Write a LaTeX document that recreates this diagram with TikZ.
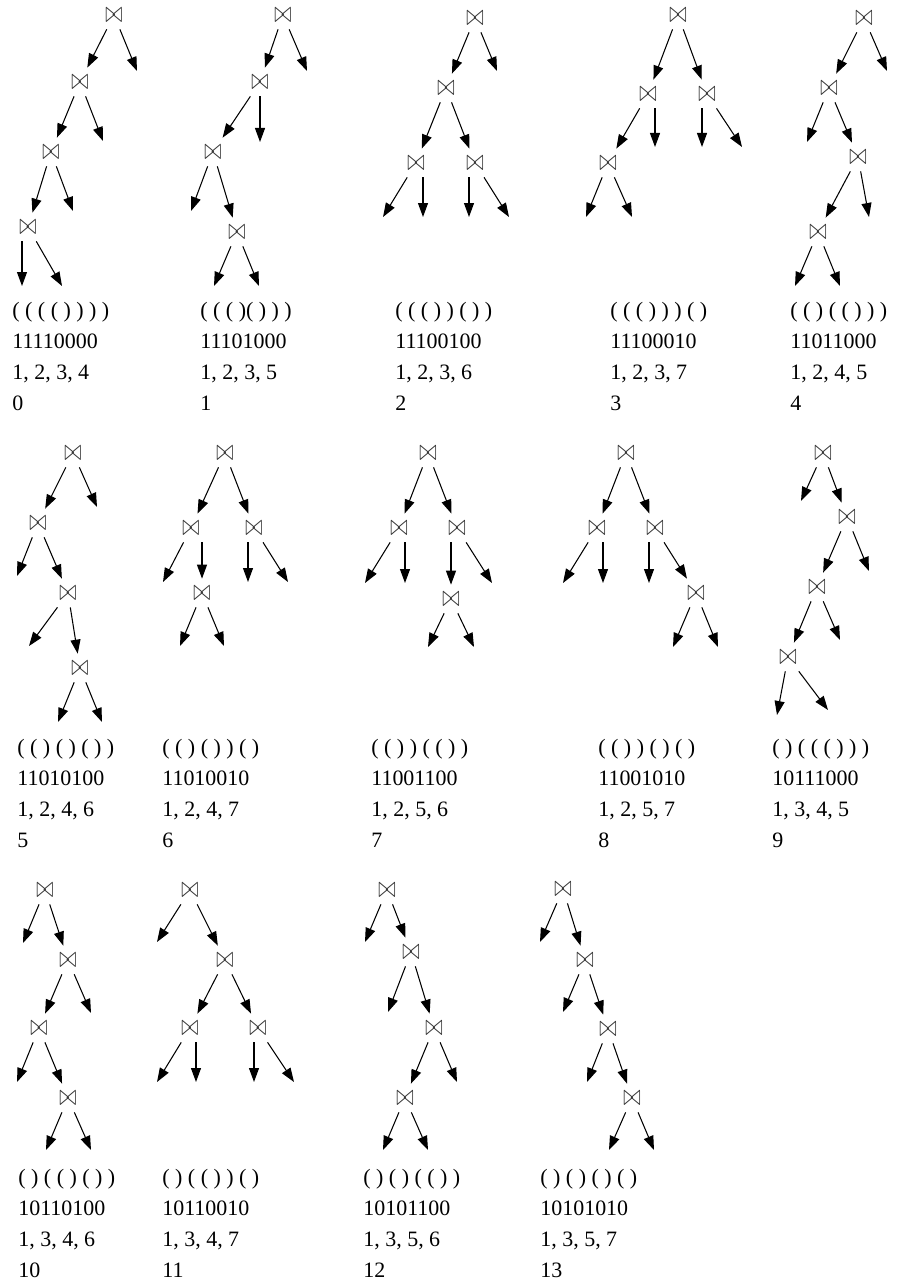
\documentclass[tikz,border=0pt]{standalone}
\usepackage{fontspec}
\setmainfont{Liberation Serif}
\usepackage{tikz}
\usetikzlibrary{arrows.meta}
\newcommand\lblfont{\fontsize{12.5pt}{17.6pt}\selectfont}
\newcommand\jfont{\fontsize{12pt}{14pt}\selectfont}
\newcommand\jsym{\scalebox{1}[1.45]{$\bowtie$}}
\tikzset{
  jnode/.style={
    inner sep=0pt, minimum width=0.5cm, minimum height=0.56cm,
    text=black!80, font=\jfont
  },
  arrow/.style={-{Triangle[length=0.28cm,width=0.2cm]}, line width=0.6pt, black},
  lbl/.style={anchor=north west, inner sep=0pt, align=left, font=\lblfont}
}
\begin{document}
\begin{tikzpicture}[x=0.02cm,y=-0.02cm]
\useasboundingbox (0,0) rectangle (899,1287);

% row 1
\node[jnode] (t0a) at (114,15)  {\jsym};
\node[jnode] (t0b) at (80,82)   {\jsym};
\node[jnode] (t0c) at (51,152)  {\jsym};
\node[jnode] (t0d) at (28,227)  {\jsym};
\coordinate (t0l1) at (137,71);
\coordinate (t0l2) at (103,141);
\coordinate (t0l3) at (73,211);
\coordinate (t0l4) at (22,286);
\coordinate (t0l5) at (62,286);
\draw[arrow] (t0a) -- (t0b);
\draw[arrow] (t0a) -- (t0l1);
\draw[arrow] (t0b) -- (t0c);
\draw[arrow] (t0b) -- (t0l2);
\draw[arrow] (t0c) -- (t0d);
\draw[arrow] (t0c) -- (t0l3);
\draw[arrow] (t0d.south -| t0l4) -- (t0l4);
\draw[arrow] (t0d) -- (t0l5);
\node[lbl] (lab0) at (12,302) {( ( ( ( ) ) ) )\\11110000\\1, 2, 3, 4\\0};

\node[jnode] (t1a) at (283,15)  {\jsym};
\node[jnode] (t1b) at (260,82)  {\jsym};
\node[jnode] (t1c) at (213,152) {\jsym};
\node[jnode] (t1d) at (237,232) {\jsym};
\coordinate (t1l1) at (307,71);
\coordinate (t1l2) at (260,142);
\coordinate (t1l3) at (191,211);
\coordinate (t1l4) at (214,286);
\coordinate (t1l5) at (259,286);
\draw[arrow] (t1a) -- (t1b);
\draw[arrow] (t1a) -- (t1l1);
\draw[arrow] (t1b) -- (t1c);
\draw[arrow] (t1b) -- (t1l2);
\draw[arrow] (t1c) -- (t1l3);
\draw[arrow] (t1c) -- (t1d);
\draw[arrow] (t1d) -- (t1l4);
\draw[arrow] (t1d) -- (t1l5);
\node[lbl] (lab1) at (200,302) {( ( ( )( ) ) )\\11101000\\1, 2, 3, 5\\1};

\node[jnode] (t2a) at (475,18)  {\jsym};
\node[jnode] (t2b) at (446,88)  {\jsym};
\node[jnode] (t2c) at (416,163) {\jsym};
\node[jnode] (t2d) at (475,163) {\jsym};
\coordinate (t2l1) at (497,71);
\coordinate (t2l2) at (383,217);
\coordinate (t2l3) at (423,217);
\coordinate (t2l4) at (469,217);
\coordinate (t2l5) at (509,217);
\draw[arrow] (t2a) -- (t2b);
\draw[arrow] (t2a) -- (t2l1);
\draw[arrow] (t2b) -- (t2c);
\draw[arrow] (t2b) -- (t2d);
\draw[arrow] (t2c) -- (t2l2);
\draw[arrow] (t2c.south -| t2l3) -- (t2l3);
\draw[arrow] (t2d.south -| t2l4) -- (t2l4);
\draw[arrow] (t2d) -- (t2l5);
\node[lbl] (lab2) at (395,302) {( ( ( ) ) ( ) )\\11100100\\1, 2, 3, 6\\2};

\node[jnode] (t3a) at (678,15)  {\jsym};
\node[jnode] (t3b) at (648,94)  {\jsym};
\node[jnode] (t3e) at (707,94)  {\jsym};
\node[jnode] (t3c) at (608,163) {\jsym};
\coordinate (t3l1) at (655,147);
\coordinate (t3l2) at (702,147);
\coordinate (t3l3) at (742,147);
\coordinate (t3l4) at (586,217);
\coordinate (t3l5) at (632,217);
\draw[arrow] (t3a) -- (t3b);
\draw[arrow] (t3a) -- (t3e);
\draw[arrow] (t3b) -- (t3c);
\draw[arrow] (t3b.south -| t3l1) -- (t3l1);
\draw[arrow] (t3e.south -| t3l2) -- (t3l2);
\draw[arrow] (t3e) -- (t3l3);
\draw[arrow] (t3c) -- (t3l4);
\draw[arrow] (t3c) -- (t3l5);
\node[lbl] (lab3) at (610,302) {( ( ( ) ) ) ( )\\11100010\\1, 2, 3, 7\\3};

\node[jnode] (t4a) at (864,18)  {\jsym};
\node[jnode] (t4b) at (829,88)  {\jsym};
\node[jnode] (t4c) at (858,157) {\jsym};
\node[jnode] (t4d) at (818,232) {\jsym};
\coordinate (t4l1) at (887,71);
\coordinate (t4l2) at (807,142);
\coordinate (t4l3) at (869,217);
\coordinate (t4l4) at (795,286);
\coordinate (t4l5) at (840,286);
\draw[arrow] (t4a) -- (t4b);
\draw[arrow] (t4a) -- (t4l1);
\draw[arrow] (t4b) -- (t4l2);
\draw[arrow] (t4b) -- (t4c);
\draw[arrow] (t4c) -- (t4d);
\draw[arrow] (t4c) -- (t4l3);
\draw[arrow] (t4d) -- (t4l4);
\draw[arrow] (t4d) -- (t4l5);
\node[lbl] (lab4) at (790,302) {( ( ) ( ( ) ) )\\11011000\\1, 2, 4, 5\\4};

% row 2
\node[jnode] (t5a) at (73,453)  {\jsym};
\node[jnode] (t5b) at (38,523)  {\jsym};
\node[jnode] (t5c) at (68,593)  {\jsym};
\node[jnode] (t5d) at (80,668)  {\jsym};
\coordinate (t5l1) at (97,507);
\coordinate (t5l2) at (17,576);
\coordinate (t5l3) at (29,646);
\coordinate (t5l4) at (58,722);
\coordinate (t5l5) at (102,722);
\draw[arrow] (t5a) -- (t5b);
\draw[arrow] (t5a) -- (t5l1);
\draw[arrow] (t5b) -- (t5l2);
\draw[arrow] (t5b) -- (t5c);
\draw[arrow] (t5c) -- (t5l3);
\draw[arrow] (t5c) -- (t5d);
\draw[arrow] (t5d) -- (t5l4);
\draw[arrow] (t5d) -- (t5l5);
\node[lbl] (lab5) at (17,739) {( ( ) ( ) ( ) )\\11010100\\1, 2, 4, 6\\5};

\node[jnode] (t6a) at (225,453) {\jsym};
\node[jnode] (t6b) at (191,528) {\jsym};
\node[jnode] (t6e) at (254,528) {\jsym};
\node[jnode] (t6c) at (202,593) {\jsym};
\coordinate (t6l1) at (163,582);
\coordinate (t6l2) at (248,582);
\coordinate (t6l3) at (288,582);
\coordinate (t6l4) at (180,646);
\coordinate (t6l5) at (224,646);
\draw[arrow] (t6a) -- (t6b);
\draw[arrow] (t6a) -- (t6e);
\draw[arrow] (t6b) -- (t6l1);
\draw[arrow] (t6b.south -| t6c) -- (t6c);
\draw[arrow] (t6e.south -| t6l2) -- (t6l2);
\draw[arrow] (t6e) -- (t6l3);
\draw[arrow] (t6c) -- (t6l4);
\draw[arrow] (t6c) -- (t6l5);
\node[lbl] (lab6) at (162,739) {( ( ) ( ) ) ( )\\11010010\\1, 2, 4, 7\\6};

\node[jnode] (t7a) at (428,453) {\jsym};
\node[jnode] (t7b) at (399,528) {\jsym};
\node[jnode] (t7e) at (457,528) {\jsym};
\node[jnode] (t7c) at (451,599) {\jsym};
\coordinate (t7l1) at (365,583);
\coordinate (t7l2) at (405,583);
\coordinate (t7l3) at (492,583);
\coordinate (t7l4) at (428,647);
\coordinate (t7l5) at (474,647);
\draw[arrow] (t7a) -- (t7b);
\draw[arrow] (t7a) -- (t7e);
\draw[arrow] (t7b) -- (t7l1);
\draw[arrow] (t7b.south -| t7l2) -- (t7l2);
\draw[arrow] (t7e.south -| t7c) -- (t7c);
\draw[arrow] (t7e) -- (t7l3);
\draw[arrow] (t7c) -- (t7l4);
\draw[arrow] (t7c) -- (t7l5);
\node[lbl] (lab7) at (371,739) {( ( ) ) ( ( ) )\\11001100\\1, 2, 5, 6\\7};

\node[jnode] (t8a) at (626,453) {\jsym};
\node[jnode] (t8b) at (597,528) {\jsym};
\node[jnode] (t8e) at (655,528) {\jsym};
\node[jnode] (t8c) at (696,593) {\jsym};
\coordinate (t8l1) at (563,583);
\coordinate (t8l2) at (603,583);
\coordinate (t8l3) at (649,583);
\coordinate (t8l4) at (673,647);
\coordinate (t8l5) at (718,647);
\draw[arrow] (t8a) -- (t8b);
\draw[arrow] (t8a) -- (t8e);
\draw[arrow] (t8b) -- (t8l1);
\draw[arrow] (t8b.south -| t8l2) -- (t8l2);
\draw[arrow] (t8e.south -| t8l3) -- (t8l3);
\draw[arrow] (t8e) -- (t8c);
\draw[arrow] (t8c) -- (t8l4);
\draw[arrow] (t8c) -- (t8l5);
\node[lbl] (lab8) at (598,739) {( ( ) ) ( ) ( )\\11001010\\1, 2, 5, 7\\8};

\node[jnode] (t9a) at (823,453) {\jsym};
\node[jnode] (t9b) at (847,517) {\jsym};
\node[jnode] (t9c) at (817,587) {\jsym};
\node[jnode] (t9d) at (788,657) {\jsym};
\coordinate (t9l1) at (801,501);
\coordinate (t9l2) at (869,571);
\coordinate (t9l3) at (840,640);
\coordinate (t9l4) at (777,715);
\coordinate (t9l5) at (828,710);
\draw[arrow] (t9a) -- (t9l1);
\draw[arrow] (t9a) -- (t9b);
\draw[arrow] (t9b) -- (t9c);
\draw[arrow] (t9b) -- (t9l2);
\draw[arrow] (t9c) -- (t9d);
\draw[arrow] (t9c) -- (t9l3);
\draw[arrow] (t9d) -- (t9l4);
\draw[arrow] (t9d) -- (t9l5);
\node[lbl] (lab9) at (772,739) {( ) ( ( ( ) ) )\\10111000\\1, 3, 4, 5\\9};

% row 3
\node[jnode] (t10a) at (45,890)   {\jsym};
\node[jnode] (t10b) at (68,960)   {\jsym};
\node[jnode] (t10c) at (39,1028)  {\jsym};
\node[jnode] (t10d) at (68,1098)  {\jsym};
\coordinate (t10l1) at (23,943);
\coordinate (t10l2) at (91,1013);
\coordinate (t10l3) at (17,1082);
\coordinate (t10l4) at (46,1150);
\coordinate (t10l5) at (91,1150);
\draw[arrow] (t10a) -- (t10l1);
\draw[arrow] (t10a) -- (t10b);
\draw[arrow] (t10b) -- (t10c);
\draw[arrow] (t10b) -- (t10l2);
\draw[arrow] (t10c) -- (t10l3);
\draw[arrow] (t10c) -- (t10d);
\draw[arrow] (t10d) -- (t10l4);
\draw[arrow] (t10d) -- (t10l5);
\node[lbl] (lab10) at (18,1169) {( ) ( ( ) ( ) )\\10110100\\1, 3, 4, 6\\10};

\node[jnode] (t11a) at (190,890)  {\jsym};
\node[jnode] (t11b) at (225,960)  {\jsym};
\node[jnode] (t11c) at (190,1028) {\jsym};
\node[jnode] (t11d) at (258,1028) {\jsym};
\coordinate (t11l1) at (157,942);
\coordinate (t11l2) at (157,1082);
\coordinate (t11l3) at (196,1082);
\coordinate (t11l4) at (254,1082);
\coordinate (t11l5) at (294,1082);
\draw[arrow] (t11a) -- (t11l1);
\draw[arrow] (t11a) -- (t11b);
\draw[arrow] (t11b) -- (t11c);
\draw[arrow] (t11b) -- (t11d);
\draw[arrow] (t11c) -- (t11l2);
\draw[arrow] (t11c.south -| t11l3) -- (t11l3);
\draw[arrow] (t11d.south -| t11l4) -- (t11l4);
\draw[arrow] (t11d) -- (t11l5);
\node[lbl] (lab11) at (162,1169) {( ) ( ( ) ) ( )\\10110010\\1, 3, 4, 7\\11};

\node[jnode] (t12a) at (387,890)  {\jsym};
\node[jnode] (t12b) at (411,952)  {\jsym};
\node[jnode] (t12c) at (434,1028) {\jsym};
\node[jnode] (t12d) at (405,1098) {\jsym};
\coordinate (t12l1) at (365,942);
\coordinate (t12l2) at (388,1012);
\coordinate (t12l3) at (457,1082);
\coordinate (t12l4) at (383,1150);
\coordinate (t12l5) at (428,1150);
\draw[arrow] (t12a) -- (t12l1);
\draw[arrow] (t12a) -- (t12b);
\draw[arrow] (t12b) -- (t12l2);
\draw[arrow] (t12b) -- (t12c);
\draw[arrow] (t12c) -- (t12d);
\draw[arrow] (t12c) -- (t12l3);
\draw[arrow] (t12d) -- (t12l4);
\draw[arrow] (t12d) -- (t12l5);
\node[lbl] (lab12) at (363,1169) {( ) ( ) ( ( ) )\\10101100\\1, 3, 5, 6\\12};

\node[jnode] (t13a) at (563,889)  {\jsym};
\node[jnode] (t13b) at (585,960)  {\jsym};
\node[jnode] (t13c) at (608,1029) {\jsym};
\node[jnode] (t13d) at (632,1098) {\jsym};
\coordinate (t13l1) at (540,942);
\coordinate (t13l2) at (563,1012);
\coordinate (t13l3) at (587,1082);
\coordinate (t13l4) at (609,1150);
\coordinate (t13l5) at (654,1150);
\draw[arrow] (t13a) -- (t13l1);
\draw[arrow] (t13a) -- (t13b);
\draw[arrow] (t13b) -- (t13l2);
\draw[arrow] (t13b) -- (t13c);
\draw[arrow] (t13c) -- (t13l3);
\draw[arrow] (t13c) -- (t13d);
\draw[arrow] (t13d) -- (t13l4);
\draw[arrow] (t13d) -- (t13l5);
\node[lbl] (lab13) at (540,1169) {( ) ( ) ( ) ( )\\10101010\\1, 3, 5, 7\\13};
\end{tikzpicture}
\end{document}
